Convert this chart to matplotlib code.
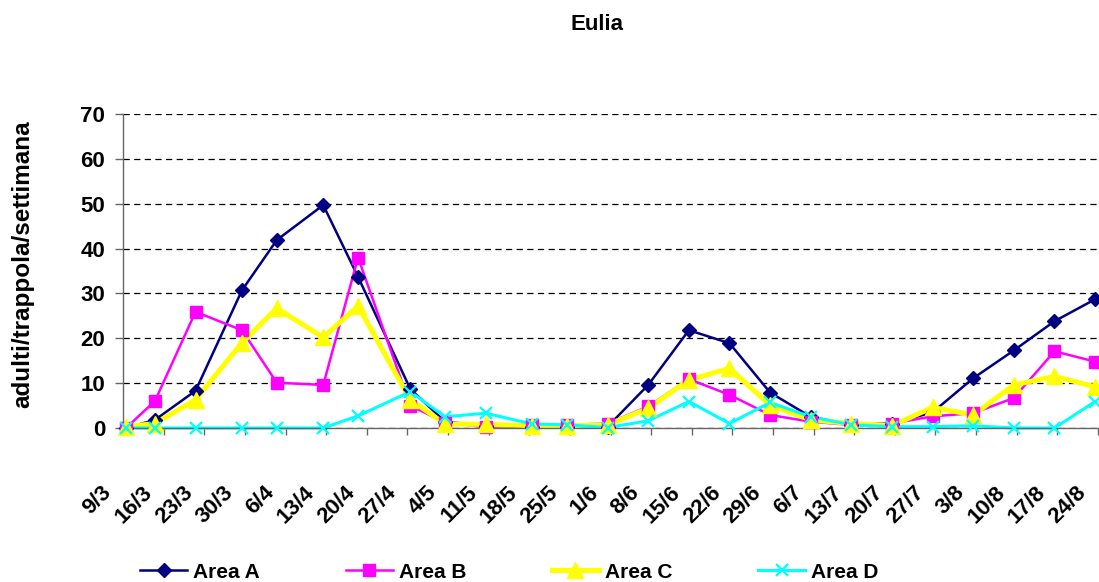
import numpy as np
import matplotlib
matplotlib.use('Agg')
import matplotlib.pyplot as plt
from matplotlib.lines import Line2D
from matplotlib.transforms import ScaledTranslation

# etichette settimanali dell'asse x (ogni 7 giorni dal 9/3)
etichette = ['9/3', '16/3', '23/3', '30/3', '6/4', '13/4', '20/4', '27/4',
             '4/5', '11/5', '18/5', '25/5', '1/6', '8/6', '15/6', '22/6',
             '29/6', '6/7', '13/7', '20/7', '27/7', '3/8', '10/8', '17/8', '24/8']

# giorni di campionamento (giorni dopo il 9/3)
giorni = [0, 5, 12, 20, 26, 34, 40, 49, 55, 62, 70, 76, 83, 90, 97, 104,
          111, 118, 125, 132, 139, 146, 153, 160, 167]

area_a = [0, 1.8, 8.3, 30.7, 41.9, 49.7, 33.7, 8.7, 1.4, 0.5, 0.2, 0.2, 0.3,
          9.6, 21.8, 18.9, 7.9, 2.5, 0.7, 1.0, 3.5, 11.1, 17.3, 23.8, 28.7]
area_b = [0, 6.0, 25.9, 21.8, 10.1, 9.6, 38.0, 5.0, 1.2, 0.2, 0.7, 0.7, 1.0,
          4.8, 10.9, 7.4, 2.9, 1.4, 0.7, 1.0, 2.6, 3.3, 6.7, 17.1, 14.8]
area_c = [0.3, 1.0, 6.3, 19.0, 26.7, 20.2, 27.2, 6.3, 0.9, 0.8, 0.5, 0.5, 0.7,
          4.4, 10.7, 13.3, 5.1, 1.8, 1.0, 0.5, 4.6, 2.9, 9.6, 11.5, 9.2]
area_d = [0, 0, 0, 0, 0, 0, 2.7, 8.1, 2.5, 3.3, 0.9, 0.7, 0.1,
          1.6, 5.9, 1.0, 5.7, 2.5, 0.7, 0.3, 0.3, 0.5, 0, 0, 5.9]

plt.rcParams['font.family'] = ['Liberation Sans', 'DejaVu Sans']
plt.rcParams['font.weight'] = 'bold'
plt.rcParams['axes.labelweight'] = 'bold'

fig = plt.figure(figsize=(10.99, 5.82), dpi=100)
ax = fig.add_axes([123/1099, 1 - 428/582, 975/1099, 314/582])

# punto al centro del giorno (asse a date)
x = np.array(giorni) + 0.5
x_tick = 7 * np.arange(len(etichette))

serie = [
    ('Area A', area_a, '#000080', 1.8, dict(marker='D', ms=6.8, mfc='#000080', mec='#000080', mew=1)),
    ('Area B', area_b, '#FF00FF', 1.8, dict(marker='s', ms=8.5, mfc='#FF00FF', mec='#FF00FF', mew=1)),
    ('Area C', area_c, '#FFFF00', 3.6, dict(marker='^', ms=11, mfc='#FFFF00', mec='#FFFF00', mew=1)),
    ('Area D', area_d, '#00FFFF', 2.2, dict(marker='x', ms=9, mec='#00FFFF', mew=1.6)),
]

handles = []
for nome, valori, col, lw, mk in serie:
    ax.plot(x, valori, color=col, lw=lw, zorder=2, clip_on=False)
for nome, valori, col, lw, mk in serie:
    ax.plot(x, valori, ls='none', zorder=3, clip_on=False, **mk)
    handles.append(Line2D([], [], color=col, lw=lw, **mk))

ax.set_xlim(0, 168)
ax.set_ylim(0, 70)
ax.set_yticks(range(0, 71, 10))
ax.set_xticks(x_tick)
ax.set_xticklabels([])

ax.set_axisbelow(True)
ax.yaxis.grid(True, color='black', lw=0.9, ls=(0, (5, 3.5)))
for s in ['top', 'right']:
    ax.spines[s].set_visible(False)
for s in ['left', 'bottom']:
    ax.spines[s].set_color('#666666')
    ax.spines[s].set_linewidth(1)

ax.tick_params(axis='y', direction='out', length=5.8, width=1, color='#666666',
               pad=7, labelsize=16)
ax.tick_params(axis='x', direction='out', length=5, width=1, color='#666666')

# etichette ruotate a 45 gradi, spostate sotto e a sinistra del tick
spost = ScaledTranslation(-22 / 100, -54 / 100, fig.dpi_scale_trans)
for xt, lab in zip(x_tick, etichette):
    ax.text(xt, 0, lab, transform=ax.get_xaxis_transform() + spost,
            rotation=45, rotation_mode='anchor', ha='right', va='top',
            fontsize=16)

ax.set_ylabel('adulti/trappola/settimana', fontsize=17.5)
ax.yaxis.set_label_coords(-0.0913, 0.522)

fig.text(597/1099, 1 - 25/582, 'Eulia', ha='center', va='center', fontsize=16)

fig.legend(handles=handles, labels=[s[0] for s in serie], ncol=4, frameon=False,
           loc='center left', bbox_to_anchor=(140/1099, 1 - 572/582),
           borderaxespad=0, borderpad=0, fontsize=15,
           handlelength=2.26, handletextpad=0.3, columnspacing=4.1)

fig.savefig('out.png', dpi=100)
